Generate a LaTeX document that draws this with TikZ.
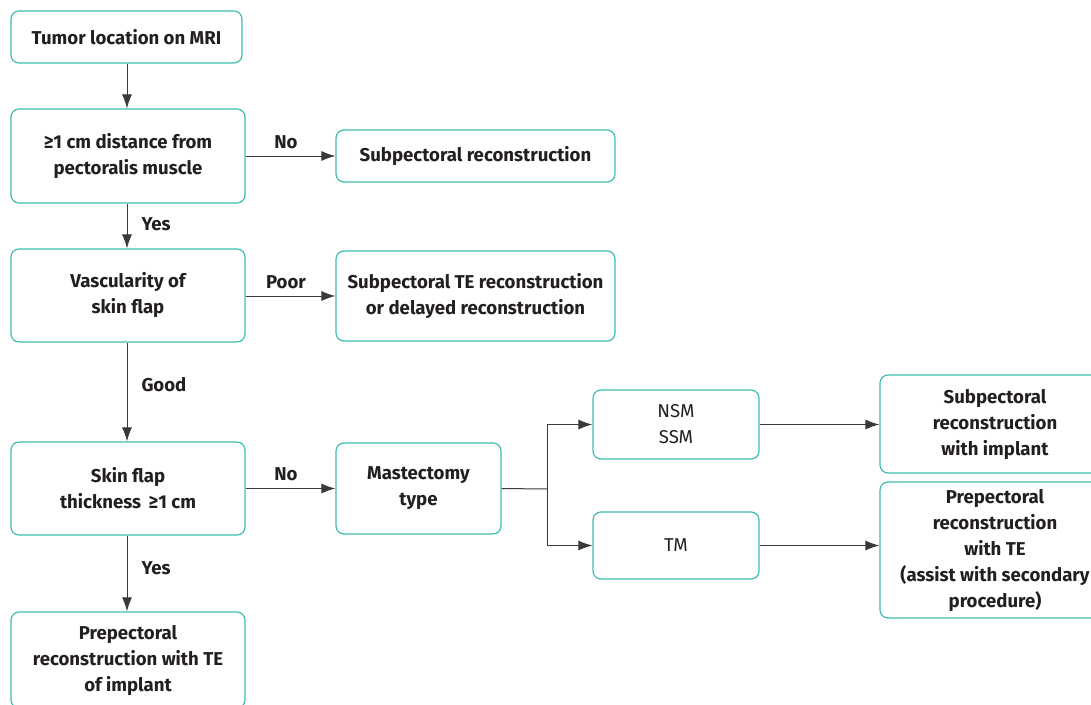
\documentclass[tikz,border=0pt]{standalone}
\usepackage{fontspec}
\setmainfont{Fira Sans}
\usetikzlibrary{arrows.meta}
\definecolor{teal1}{HTML}{3DBDB0}
\definecolor{txt}{HTML}{231F20}
\definecolor{ln}{HTML}{3A3A3A}
\tikzset{
  box/.style={draw=teal1, line width=1.2pt, rounded corners=8pt, align=center, text=txt,
    font=\fontsize{18.6}{26}\selectfont\bfseries, inner sep=0pt},
  rbox/.style={box, font=\fontsize{18.6}{26}\selectfont},
  arr/.style={draw=ln, line width=1pt, -{Latex[length=14pt,width=10pt]}},
  lin/.style={draw=ln, line width=1pt},
  lab/.style={text=txt, font=\fontsize{18.6}{20}\selectfont\bfseries, inner sep=0pt}
}
\begin{document}
\begin{tikzpicture}[x=1pt,y=-1pt]
\useasboundingbox (0,0) rectangle (1091,704);
\clip (0,0) rectangle (1091,704);
\node[box, minimum width=231pt, minimum height=52pt] (a) at (126.5,37) {Tumor location on MRI};
\node[box, minimum width=234pt, minimum height=94pt] (b) at (128,156) {≥1 cm distance from\\pectoralis muscle};
\node[box, minimum width=279pt, minimum height=52pt] (b2) at (475.5,156) {Subpectoral reconstruction};
\node[box, minimum width=234pt, minimum height=93pt] (c) at (128,295.5) {Vascularity of\\skin flap};
\node[box, minimum width=279pt, minimum height=90pt] (c2) at (475.5,296) {Subpectoral TE reconstruction\\or delayed reconstruction};
\node[box, minimum width=234pt, minimum height=93pt] (d) at (128,488.5) {Skin flap\\thickness \,≥1 cm};
\node[box, minimum width=165pt, minimum height=91pt] (m) at (418.5,488.5) {Mastectomy\\type};
\node[rbox, minimum width=166pt, minimum height=69pt] (n) at (676,424.5) {NSM\\SSM};
\node[rbox, minimum width=166pt, minimum height=67pt] (t) at (676,545.5) {TM};
\node[box, minimum width=230pt, minimum height=98pt] (s) at (995,424) {Subpectoral\\reconstruction\\with implant};
\node[box, minimum width=230pt, minimum height=136pt] (p) at (995,550) {Prepectoral\\reconstruction\\with TE\\(assist with secondary\\procedure)};
\node[box, minimum width=234pt, minimum height=96pt] (e) at (128,660) {Prepectoral\\reconstruction with TE\\of implant};
\coordinate (j) at (547,489);
\draw[arr] (a.south -| 127,0) -- (b.north -| 127,0);
\draw[arr] (b.south -| 127,0) -- node[lab, right=14pt, pos=0.45]{Yes} (c.north -| 127,0);
\draw[arr] (c.south -| 127,0) -- node[lab, right=14pt, pos=0.43]{Good} (d.north -| 127,0);
\draw[arr] (d.south -| 127,0) -- node[lab, right=14pt, pos=0.43]{Yes} (e.north -| 127,0);
\draw[arr] (b.east) -- node[lab, above=7pt, pos=0.45]{No} (b2.west);
\draw[arr] (c.east |- 0,296) -- node[lab, above=7pt, pos=0.45]{Poor} (c2.west);
\draw[arr] (d.east) -- node[lab, above=7pt, pos=0.45]{No} (m.west);
\draw[lin] (m.east) -- (j);
\draw[arr] (j) |- (n.west);
\draw[arr] (j) |- (t.west);
\draw[arr] (n.east) -- (s.west |- n.east);
\draw[arr] (t.east) -- (p.west |- t.east);
\end{tikzpicture}
\end{document}
